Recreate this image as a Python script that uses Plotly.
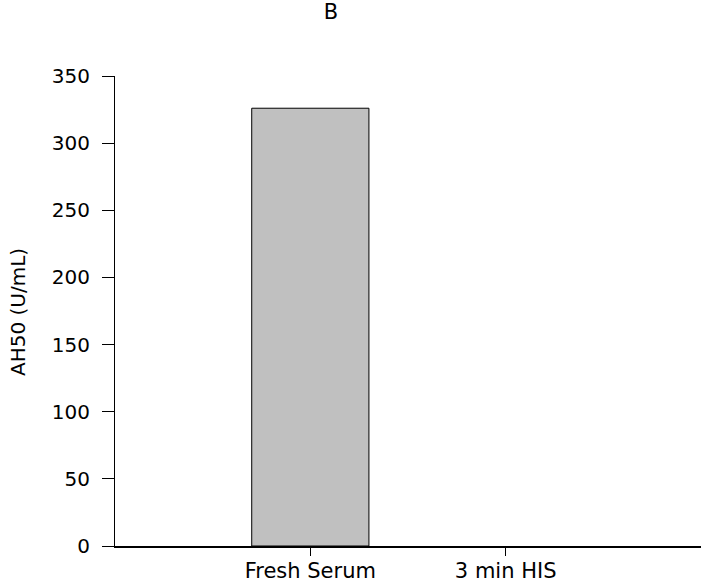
import plotly.graph_objects as go

categories = ["Fresh Serum", "3 min HIS"]
values = [326, 0]
y_ticks = [0, 50, 100, 150, 200, 250, 300, 350]
y_title = "AH50 (U/mL)"

FONT = "DejaVu Sans, Liberation Sans, Arial, sans-serif"

fig = go.Figure()
fig.add_trace(go.Bar(
    x=[0, 1], y=values, width=0.6,
    marker=dict(color="#c0c0c0", line=dict(color="black", width=[1 if v > 0 else 0 for v in values])),
))

fig.update_layout(
    width=703, height=586,
    margin=dict(l=115, r=2, t=76, b=40, autoexpand=False),
    paper_bgcolor="white", plot_bgcolor="white",
    showlegend=False,
    font=dict(family=FONT, color="black", size=20),
    title=dict(text="B", x=331/703, xanchor="center", y=1-12/586, yanchor="middle",
               font=dict(family=FONT, size=21, color="black")),
    xaxis=dict(
        range=[-1, 2], tickmode="array", tickvals=[0, 1], ticktext=categories,
        showline=True, linecolor="black", linewidth=1.5, ticks="outside", ticklen=8,
        tickcolor="black", tickwidth=1, showgrid=False, zeroline=False,
        tickfont=dict(family=FONT, size=21), automargin=False, ticklabelstandoff=-3,
    ),
    yaxis=dict(
        range=[0, 350], tickmode="array", tickvals=y_ticks,
        showline=True, linecolor="black", linewidth=1, ticks="outside", ticklen=12,
        tickcolor="black", tickwidth=1, showgrid=False, zeroline=False,
        tickfont=dict(family=FONT, size=20), ticklabelstandoff=8, automargin=False,
    ),
    annotations=[dict(
        text=y_title, xref="paper", yref="paper",
        x=-(115-18)/586, y=(546-312)/470, xanchor="center", yanchor="middle",
        textangle=-90, showarrow=False, font=dict(family=FONT, size=20, color="black"),
    )],
)

fig.write_html("out.html")
